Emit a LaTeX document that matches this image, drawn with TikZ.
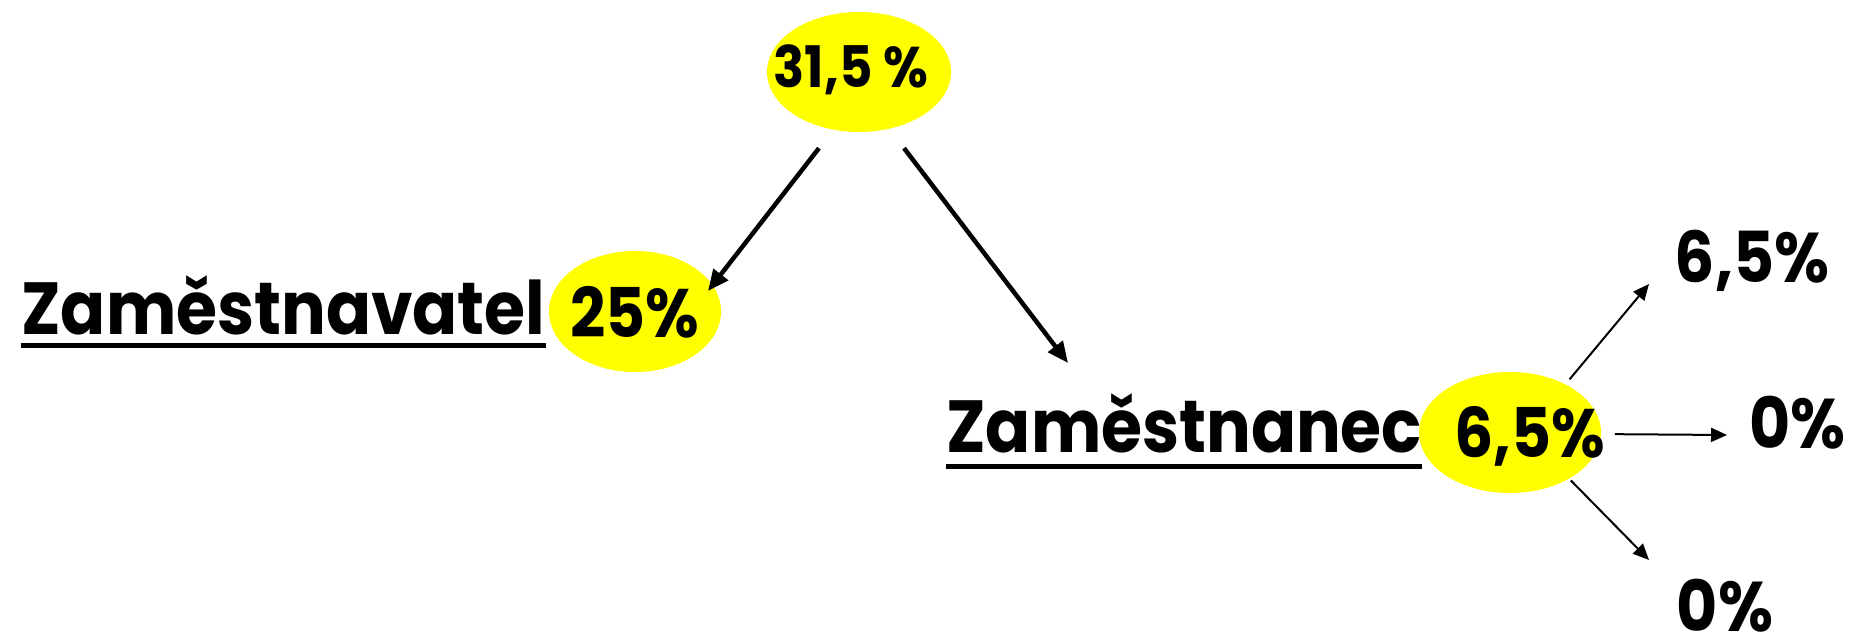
\documentclass[tikz,border=0pt]{standalone}
\usepackage{fontspec}
\setmainfont{Poppins}[FakeStretch=0.9]
\usetikzlibrary{shapes.geometric,arrows.meta}

\definecolor{bubbleyellow}{RGB}{255,255,0}
\tikzset{
  bubble/.style={ellipse,fill=bubbleyellow,draw=none,inner sep=0pt,outer sep=0pt},
  word/.style={inner sep=0pt,anchor=base west,font=\fontsize{42}{48}\selectfont\bfseries},
  pct/.style={inner sep=0pt,anchor=base,font=\fontsize{40}{46}\selectfont\bfseries},
  underl/.style={line width=0.1cm},
  mainarrow/.style={line width=0.09cm,-{Triangle[length=0.42cm,width=0.36cm]}},
  sidearrow/.style={line width=0.04cm,-{Triangle[length=0.32cm,width=0.28cm]}}
}

\begin{document}
\begin{tikzpicture}
		\useasboundingbox (0,0) rectangle (37.04,12.64);

		% ellipses
		\node[bubble,minimum width=3.68cm,minimum height=2.4cm] (top) at (17.18,11.2) {};
		\node[bubble,minimum width=3.44cm,minimum height=2.42cm] (left) at (12.7,6.41) {};
		\node[bubble,minimum width=3.64cm,minimum height=2.42cm] (right) at (30.2,3.99) {};

		% words
		\node[word] (zvl) at (0.42,5.94) {Zaměstnavatel};
		\node[word] (zmc) at (18.92,3.58) {Zaměstnanec};
		\draw[underl] ([yshift=-0.21cm]zvl.base west) -- ([yshift=-0.21cm]zvl.base east);
		\draw[underl] ([yshift=-0.26cm]zmc.base west) -- ([yshift=-0.26cm]zmc.base east);

		% percents
		\node[pct,font=\fontsize{32.6}{38}\selectfont\bfseries] (toppct) at (17.02,10.88) {31,5 \%};
		\node[pct,font=\fontsize{39}{44}\selectfont\bfseries] (leftpct) at (12.69,5.88) {25\%};
		\node[pct,font=\fontsize{39}{44}\selectfont\bfseries] (rightpct) at (30.6,3.5) {6,5\%};
		\node[pct] (up) at (35.04,6.98) {6,5\%};
		\node[pct] (mid) at (35.95,3.68) {0\%};
		\node[pct] (down) at (34.5,0.02) {0\%};

		% arrow tips
		\coordinate (leftTip) at (14.16,6.82);
		\coordinate (zmcTip) at (21.36,5.38);
		\coordinate (upTip) at (32.98,6.96);
		\coordinate (midTip) at (34.54,3.94);
		\coordinate (downTip) at (32.98,1.44);

		\draw[mainarrow,shorten <=0.47cm] (top.246.97) -- (leftTip);
		\draw[mainarrow,shorten <=0.49cm] (top.298.95) -- (zmcTip);
		\draw[sidearrow,shorten <=0.134cm] (right.41.5) -- (upTip);
		\draw[sidearrow,shorten <=0.28cm] (right.-1.6) -- (midTip);
		\draw[sidearrow,shorten <=0.054cm] (right.-38.7) -- (downTip);
\end{tikzpicture}
\end{document}
